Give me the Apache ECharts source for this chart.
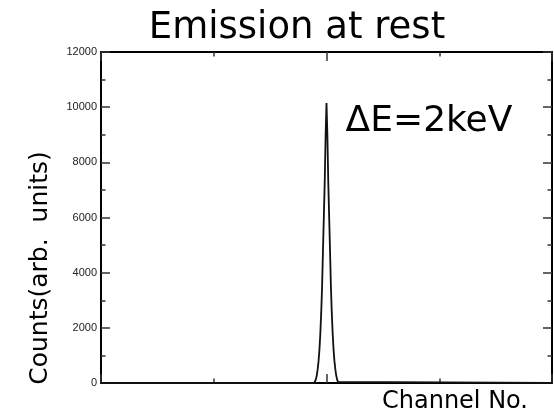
<!DOCTYPE html>
<html>
<head>
<meta charset="utf-8">
<script src="https://cdn.jsdelivr.net/npm/echarts@6/dist/echarts.min.js"></script>
<style>html,body{margin:0;padding:0;background:#fff;}#c{width:554px;height:417px;}</style>
</head>
<body>
<div id="c"></div>
<script>
// Data
var titleText = 'Emission at rest';
var noteText = '\u0394E=2keV';
var xName = 'Channel No.';
var yName = 'Counts(arb.  units)';
var yTicks = [0, 2000, 4000, 6000, 8000, 10000, 12000];
var channels = [0, 484, 486, 488, 490, 492, 494, 496, 498, 500, 502, 504, 506, 508, 510, 512,
                514, 516, 518, 520, 522, 524, 526, 528, 530, 532, 534, 536, 538, 540, 1024];
var counts = [0, 0, 40, 130, 280, 500, 800, 1220, 1800, 2550, 3500, 4800, 6050, 7300, 9000, 10150,
              9000, 7300, 6050, 4800, 3500, 2550, 1800, 1220, 800, 500, 280, 130, 40, 0, 0];

var chart = echarts.init(document.getElementById('c'), null, {renderer: 'canvas'});
var data = channels.map(function (c, i) { return [c, counts[i]]; });

function xAx(pos) {
  return {
    type: 'value', position: pos, min: 0, max: 1024, interval: 512,
    axisLine: {show: true, onZero: false, lineStyle: {color: '#000', width: 2}},
    axisTick: {show: true, inside: true, length: 9, lineStyle: {color: '#333', width: 1.5}},
    minorTick: {show: true, splitNumber: 2, length: 4.5, lineStyle: {color: '#333', width: 1.5}},
    axisLabel: {show: false}, splitLine: {show: false}
  };
}
function yAx(pos, labels) {
  return {
    type: 'value', position: pos, min: yTicks[0], max: yTicks[yTicks.length - 1], interval: 2000,
    axisLine: {show: true, onZero: false, lineStyle: {color: '#000', width: 2}},
    axisTick: {show: true, inside: true, length: 9, lineStyle: {color: '#333', width: 1.5}},
    minorTick: {show: true, splitNumber: 2, length: 4.5, lineStyle: {color: '#333', width: 1.5}},
    axisLabel: {show: labels, inside: false, margin: 4, color: '#222', fontFamily: 'Liberation Sans', fontSize: 11,
      formatter: function (v) { return String(v); }},
    splitLine: {show: false}
  };
}

chart.setOption({
  animation: false,
  backgroundColor: '#fff',
  grid: {left: 101, right: 2, top: 52, bottom: 34, containLabel: false},
  xAxis: [xAx('bottom'), xAx('top')],
  yAxis: [yAx('left', true), yAx('right', false)],
  series: [{
    type: 'line', xAxisIndex: 0, yAxisIndex: 0, data: data,
    showSymbol: false, symbol: 'none', smooth: false,
    lineStyle: {color: '#111', width: 1.8}
  }],
  graphic: [
    {type: 'text', x: 297, y: 28, style: {text: titleText, font: '37px "DejaVu Sans"', fill: '#000', align: 'center', verticalAlign: 'middle'}},
    {type: 'text', x: 429, y: 122, style: {text: noteText, font: '36px "DejaVu Sans"', fill: '#000', align: 'center', verticalAlign: 'middle'}},
    {type: 'text', x: 455, y: 402, style: {text: xName, font: '24px "DejaVu Sans"', fill: '#000', align: 'center', verticalAlign: 'middle'}},
    {type: 'text', x: 40, y: 268, rotation: Math.PI / 2, style: {text: yName, font: '25px "DejaVu Sans"', fill: '#000', align: 'center', verticalAlign: 'middle'}}
  ]
});
</script>
</body>
</html>
